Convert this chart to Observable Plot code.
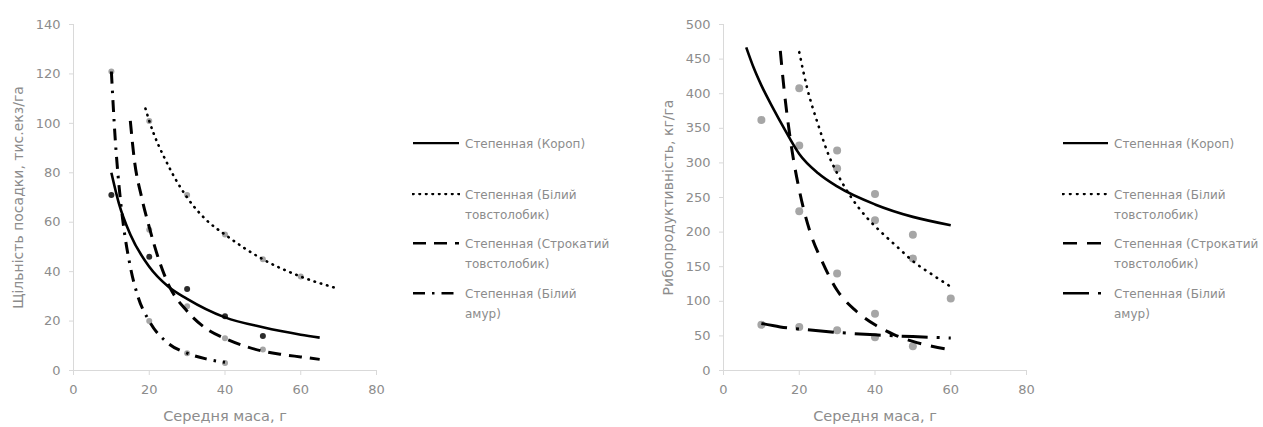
<!DOCTYPE html>
<html>
<head>
<meta charset="utf-8">
<script src="https://cdn.jsdelivr.net/npm/d3@7"></script>
<script src="https://cdn.jsdelivr.net/npm/@observablehq/plot@0.6"></script>
<style>
  html, body { margin: 0; padding: 0; background: #fff; overflow: hidden; }
  #wrap { position: relative; width: 1263px; height: 427px; font-family: "DejaVu Sans", sans-serif; }
  .chart { position: absolute; top: 0; }
  .legend { position: absolute; top: 0; color: #8c8c8c; font-size: 12px; }
  .entry { position: absolute; left: 0; display: flex; align-items: flex-start; white-space: nowrap; }
  .entry svg { flex: none; margin-top: 4px; }
  .entry .lbl { line-height: 20px; margin-top: -4px; }
</style>
</head>
<body>
<div id="wrap"></div>
<script>
// ---------- shared ----------
const xTicks = [0, 20, 40, 60, 80];
const xTitle = "Середня маса, г";
const seriesNames = ["Короп", "Білий товстолобик", "Строкатий товстолобик", "Білий амур"];
const legendLines = [
  ["Степенная (Короп)"],
  ["Степенная (Білий", "товстолобик)"],
  ["Степенная (Строкатий", "товстолобик)"],
  ["Степенная (Білий", "амур)"]
];

// ---------- left chart: stocking density ----------
const leftYTicks = [0, 20, 40, 60, 80, 100, 120, 140];
const leftYTitle = "Щільність посадки, тис.екз/га";
// observed points
const lKoropX = [10, 20, 30, 40, 50];        const lKoropY = [71, 46, 33, 22, 14];
const lBilyiX = [20, 30, 40, 50, 60];        const lBilyiY = [101, 71, 55, 45, 38];
const lStrokX = [20, 30, 40, 50];            const lStrokY = [57, 26, 13, 8.5];
const lAmurX  = [10, 20, 30, 40];            const lAmurY  = [121, 20, 7, 3];
// power trendlines
const lKoropTX = [10, 12, 15, 20, 25, 30, 40, 50, 60, 65];
const lKoropTY = [80, 67.5, 55, 42, 34, 29, 21.5, 17.5, 14.5, 13.3];
const lBilyiTX = [19, 20, 25, 30, 35, 40, 50, 60, 69];
const lBilyiTY = [106, 101, 83, 70, 61, 55, 45, 38, 33.5];
const lStrokTX = [15, 16, 18, 20, 22.5, 25, 30, 35, 40, 45, 50, 55, 60, 65];
const lStrokTY = [101, 86, 70, 58, 45, 35, 24, 17, 13, 10, 7.8, 6.5, 5.5, 4.5];
const lAmurTX  = [10, 11, 12, 13, 15, 17, 20, 25, 30, 35, 40];
const lAmurTY  = [121, 94, 75, 61, 42, 30, 20, 11, 7, 4.7, 3.3];

// ---------- right chart: fish productivity ----------
const rightYTicks = [0, 50, 100, 150, 200, 250, 300, 350, 400, 450, 500];
const rightYTitle = "Рибопродуктивність, кг/га";
const rKoropX = [10, 20, 30, 40, 50];        const rKoropY = [362, 325, 292, 255, 196];
const rBilyiX = [20, 30, 40, 50, 60];        const rBilyiY = [408, 318, 217, 162, 104];
const rStrokX = [20, 30, 40, 50];            const rStrokY = [230, 140, 82, 35];
const rAmurX  = [10, 20, 30, 40];            const rAmurY  = [66, 63, 58, 48];
const rKoropTX = [6, 8, 10, 13, 16, 20, 25, 30, 40, 50, 60];
const rKoropTY = [467, 437, 412, 380, 350, 313, 285, 266, 240, 222, 210];
const rBilyiTX = [20, 22, 25, 28, 30, 34, 38, 42, 46, 50, 55, 60];
const rBilyiTY = [460, 410, 355, 308, 285, 248, 220, 198, 178, 158, 139, 121];
const rStrokTX = [15, 16, 17, 18, 20, 23, 26, 30, 35, 40, 45, 50, 55, 60];
const rStrokTY = [462, 406, 360, 321, 261, 198, 158, 116, 86, 66, 52, 42, 35, 30];
const rAmurTX  = [10, 15, 20, 30, 40, 50, 60];
const rAmurTY  = [68, 63, 60, 55, 51.5, 49, 47];

// ---------- styles ----------
const pointGray = "#a6a6a6";
const leftStyles = [
  {strokeWidth: 2.6, strokeDasharray: null, strokeLinecap: "butt"},
  {strokeWidth: 2.6, strokeDasharray: "0.5,6", strokeLinecap: "round"},
  {strokeWidth: 3, strokeDasharray: "13,8", strokeLinecap: "butt"},
  {strokeWidth: 3, strokeDasharray: "12,7,2.5,7", strokeLinecap: "butt"}
];
const rightStyles = [
  {strokeWidth: 2.6, strokeDasharray: null, strokeLinecap: "butt"},
  {strokeWidth: 2.6, strokeDasharray: "0.5,6.5", strokeLinecap: "round"},
  {strokeWidth: 3, strokeDasharray: "14,10", strokeLinecap: "butt"},
  {strokeWidth: 3, strokeDasharray: "26,9,3,9", strokeLinecap: "butt"}
];

function zip(xs, ys) { return xs.map((x, i) => ({x, y: ys[i]})); }

function makeChart({yDomain, yTicks, yTitle, points, trends, styles, pointFills, r}) {
  const lineMarks = trends.map((t, i) => Plot.line(t, {
    x: "x", y: "y", curve: "monotone-x", stroke: "#000",
    strokeWidth: styles[i].strokeWidth,
    strokeDasharray: styles[i].strokeDasharray,
    strokeLinecap: styles[i].strokeLinecap
  }));
  const dotMarks = points.map((p, i) => Plot.dot(p, {
    x: "x", y: "y", r, fill: pointFills[i], stroke: "none"
  }));
  return Plot.plot({
    width: 400, height: 427,
    marginLeft: 73, marginRight: 24, marginTop: 24, marginBottom: 57,
    style: {fontFamily: "'DejaVu Sans', sans-serif", fontSize: "13px", color: "#8c8c8c", background: "transparent"},
    x: {domain: [0, 80]},
    y: {domain: yDomain},
    marks: [
      Plot.ruleY([0], {stroke: "#d9d9d9", strokeWidth: 1}),
      Plot.ruleX([0], {stroke: "#d9d9d9", strokeWidth: 1}),
      Plot.axisX({ticks: xTicks, tickSize: 5, tickPadding: 9, stroke: "#d9d9d9", fill: "#8c8c8c", label: null}),
      Plot.axisY({ticks: yTicks, tickSize: 4, tickPadding: 9, stroke: "#d9d9d9", fill: "#8c8c8c", label: null}),
      ...dotMarks,
      ...lineMarks,
      Plot.text([xTitle], {frameAnchor: "bottom", dy: 46, fill: "#8c8c8c", fontSize: 14.5, lineAnchor: "middle", textAnchor: "middle"}),
      Plot.text([yTitle], {frameAnchor: "left", dx: -55, rotate: -90, fill: "#8c8c8c", fontSize: 14, lineAnchor: "middle", textAnchor: "middle"})
    ]
  });
}

function makeLegend(styles, swatchW) {
  const div = document.createElement("div");
  div.className = "legend";
  const tops = [143, 194, 243, 293];
  legendLines.forEach((lines, i) => {
    const e = document.createElement("div");
    e.className = "entry";
    e.style.top = (tops[i] - 5) + "px";
    const ns = "http://www.w3.org/2000/svg";
    const svg = document.createElementNS(ns, "svg");
    svg.setAttribute("width", swatchW);
    svg.setAttribute("height", 10);
    const ln = document.createElementNS(ns, "line");
    ln.setAttribute("x1", 1); ln.setAttribute("x2", swatchW - 1);
    ln.setAttribute("y1", 1); ln.setAttribute("y2", 1);
    ln.setAttribute("stroke", "#000");
    ln.setAttribute("stroke-width", styles[i].strokeWidth);
    if (styles[i].strokeDasharray) ln.setAttribute("stroke-dasharray", styles[i].strokeDasharray);
    ln.setAttribute("stroke-linecap", styles[i].strokeLinecap);
    svg.appendChild(ln);
    const lbl = document.createElement("div");
    lbl.className = "lbl";
    lbl.style.marginLeft = "5px";
    lbl.innerHTML = lines.join("<br>");
    e.appendChild(svg);
    e.appendChild(lbl);
    div.appendChild(e);
  });
  return div;
}

const wrap = document.getElementById("wrap");

const left = makeChart({
  yDomain: [0, 140], yTicks: leftYTicks, yTitle: leftYTitle,
  points: [zip(lKoropX, lKoropY), zip(lBilyiX, lBilyiY), zip(lStrokX, lStrokY), zip(lAmurX, lAmurY)],
  trends: [zip(lKoropTX, lKoropTY), zip(lBilyiTX, lBilyiTY), zip(lStrokTX, lStrokTY), zip(lAmurTX, lAmurTY)],
  styles: leftStyles,
  pointFills: ["#2b2b2b", pointGray, pointGray, pointGray],
  r: 3
});
left.classList.add("chart");
left.style.left = "0px";
wrap.appendChild(left);

const lLeg = makeLegend(leftStyles, 48);
lLeg.style.left = "412px";
wrap.appendChild(lLeg);

const right = makeChart({
  yDomain: [0, 500], yTicks: rightYTicks, yTitle: rightYTitle,
  points: [zip(rKoropX, rKoropY), zip(rBilyiX, rBilyiY), zip(rStrokX, rStrokY), zip(rAmurX, rAmurY)],
  trends: [zip(rKoropTX, rKoropTY), zip(rBilyiTX, rBilyiTY), zip(rStrokTX, rStrokTY), zip(rAmurTX, rAmurTY)],
  styles: rightStyles,
  pointFills: [pointGray, pointGray, pointGray, pointGray],
  r: 4
});
right.classList.add("chart");
right.style.left = "650px";
wrap.appendChild(right);

const rLeg = makeLegend(rightStyles, 47);
rLeg.style.left = "1062px";
wrap.appendChild(rLeg);
</script>
</body>
</html>
